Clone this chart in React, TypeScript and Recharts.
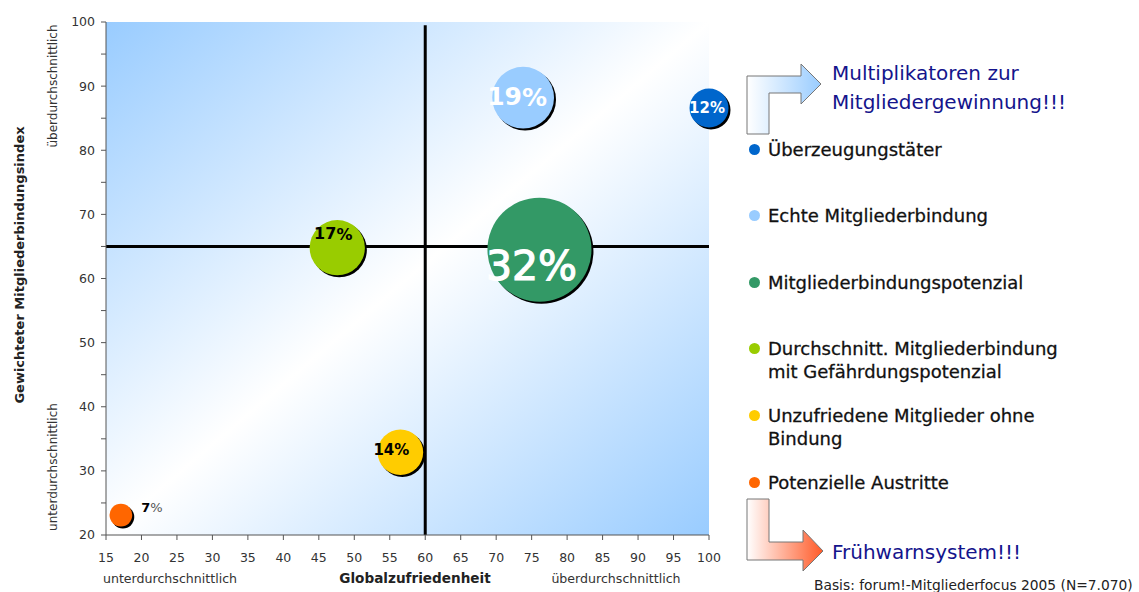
import React from "react";
import {
  ScatterChart,
  Scatter,
  XAxis,
  YAxis,
  ZAxis,
  ReferenceArea,
  ReferenceLine,
} from "recharts";

// Segments of the member portfolio
const SEGMENTS = [
  "Überzeugungstäter",
  "Echte Mitgliederbindung",
  "Mitgliederbindungspotenzial",
  "Durchschnitt. Mitgliederbindung mit Gefährdungspotenzial",
  "Unzufriedene Mitglieder ohne Bindung",
  "Potenzielle Austritte",
];
// legend text, split into its printed lines
const LEGEND_LINES = [
  ["Überzeugungstäter"],
  ["Echte Mitgliederbindung"],
  ["Mitgliederbindungspotenzial"],
  ["Durchschnitt. Mitgliederbindung", "mit Gefährdungspotenzial"],
  ["Unzufriedene Mitglieder ohne", "Bindung"],
  ["Potenzielle Austritte"],
];
// Globalzufriedenheit (x)
const SATISFACTION = [100, 73.8, 76.1, 47.6, 56.5, 17.1];
// Gewichteter Mitgliederbindungsindex (y)
const RETENTION = [86.6, 88.2, 64.5, 64.8, 32.9, 23.1];
// share of members in %
const SHARE = [12, 19, 32, 17, 14, 7];

const X_TICKS = [15, 20, 25, 30, 35, 40, 45, 50, 55, 60, 65, 70, 75, 80, 85, 90, 95, 100];
const Y_TICKS = [20, 25, 30, 35, 40, 45, 50, 55, 60, 65, 70, 75, 80, 85, 90, 95, 100];
const X_MEAN = 60;
const Y_MEAN = 65;

const COLORS = ["#0066cc", "#99ccff", "#339966", "#99cc00", "#ffcc00", "#ff6600"];

// where each percentage label sits relative to its bubble
const LABEL_STYLES = [
  { dx: -2, dy: 0, size: 15, fill: "#fff", weight: 700 },
  { dx: -6, dy: -1, size: 25, fill: "#fff", weight: 700 },
  { dx: -8, dy: 16, size: 41, fill: "#fff", weight: 400 },
  { dx: -4, dy: -14, size: 16, fill: "#000", weight: 700 },
  { dx: -9, dy: -2, size: 15, fill: "#000", weight: 700 },
  { dx: 31, dy: -8, size: 13, fill: "#000", weight: 700 },
];

const MAX_RADIUS = 52;
const FONT = "'DejaVu Sans', Verdana, sans-serif";
const NAVY = "#14148c";

interface Point {
  i: number;
  name: string;
  x: number;
  y: number;
  share: number;
}

const data: Point[] = SEGMENTS.map((name, i) => ({
  i,
  name,
  x: SATISFACTION[i],
  y: RETENTION[i],
  share: SHARE[i],
}));

function Bubble(props: any) {
  const { cx, cy, payload } = props;
  const r = props.width ? props.width / 2 : Math.sqrt((props.size || 0) / Math.PI);
  return (
    <g>
      <circle cx={cx + 2} cy={cy + 2} r={r} fill="#000" />
      <circle cx={cx} cy={cy} r={r} fill={COLORS[payload.i]} />
    </g>
  );
}

function BubbleLabel(props: any) {
  const { cx, cy, payload } = props;
  const st = LABEL_STYLES[payload.i];
  return (
    <text
      x={cx + st.dx}
      y={cy + st.dy}
      textAnchor="middle"
      dominantBaseline="central"
      fontFamily={FONT}
      fontSize={st.size}
      fontWeight={st.weight}
      fill={st.fill}
      stroke={st.weight === 400 ? st.fill : "none"}
      strokeWidth={st.weight === 400 ? 1.2 : 0}
    >
      {payload.share}
      <tspan fontWeight={payload.i === 5 ? 400 : st.weight} fill={payload.i === 5 ? "#555" : st.fill}>
        %
      </tspan>
    </text>
  );
}

function Overlay() {
  return (
    <svg
      width={1139}
      height={592}
      style={{ position: "absolute", left: 0, top: 0, pointerEvents: "none" }}
    >
      <defs>
        <linearGradient id="arrowBlue" x1="0" y1="0" x2="1" y2="0">
          <stop offset="0" stopColor="#ffffff" />
          <stop offset="1" stopColor="#99ccff" />
        </linearGradient>
        <linearGradient id="arrowRed" x1="0" y1="0" x2="1" y2="0">
          <stop offset="0" stopColor="#ffffff" />
          <stop offset="1" stopColor="#ff5a28" />
        </linearGradient>
      </defs>
      {/* axis captions */}
      <text
        transform="translate(19,265) rotate(-90)"
        textAnchor="middle"
        dominantBaseline="central"
        fontFamily={FONT}
        fontSize={13}
        fontWeight={700}
        fill="#222"
      >
        Gewichteter Mitgliederbindungsindex
      </text>
      <text
        transform="translate(53,86) rotate(-90)"
        textAnchor="middle"
        dominantBaseline="central"
        fontFamily={FONT}
        fontSize={12}
        fill="#333"
      >
        überdurchschnittlich
      </text>
      <text
        transform="translate(53,467) rotate(-90)"
        textAnchor="middle"
        dominantBaseline="central"
        fontFamily={FONT}
        fontSize={12}
        fill="#333"
      >
        unterdurchschnittlich
      </text>
      <text x={170} y={578} textAnchor="middle" dominantBaseline="central" fontFamily={FONT} fontSize={12.6} fill="#333">
        unterdurchschnittlich
      </text>
      <text
        x={415}
        y={578}
        textAnchor="middle"
        dominantBaseline="central"
        fontFamily={FONT}
        fontSize={13.6}
        fontWeight={700}
        fill="#222"
      >
        Globalzufriedenheit
      </text>
      <text x={616} y={578} textAnchor="middle" dominantBaseline="central" fontFamily={FONT} fontSize={12.6} fill="#333">
        überdurchschnittlich
      </text>

      {/* bent arrows beside the legend */}
      <path
        d="M747,134 L747,76 L801,76 L801,64 L821,84 L801,104 L801,93 L769,93 L769,134 Z"
        fill="url(#arrowBlue)"
        stroke="#777"
        strokeWidth={1}
      />
      <path
        d="M747,499 L769,499 L769,542 L803,542 L803,530 L823,551 L803,571 L803,560 L747,560 Z"
        fill="url(#arrowRed)"
        stroke="#777"
        strokeWidth={1}
      />
      <text x={832} y={73} dominantBaseline="central" fontFamily={FONT} fontSize={20} fill={NAVY}>
        Multiplikatoren zur
      </text>
      <text x={832} y={102} dominantBaseline="central" fontFamily={FONT} fontSize={20} fill={NAVY}>
        Mitgliedergewinnung!!!
      </text>
      <text x={832} y={552} dominantBaseline="central" fontFamily={FONT} fontSize={20} fill={NAVY}>
        Frühwarnsystem!!!
      </text>
      <text x={814} y={585} dominantBaseline="central" fontFamily={FONT} fontSize={13.8} fill="#222">
        Basis: forum!-Mitgliederfocus 2005 (N=7.070)
      </text>
    </svg>
  );
}

function SegmentLegend() {
  return (
    <div
      style={{
        position: "absolute",
        left: 0,
        top: 0,
        fontFamily: FONT,
        fontSize: 18,
        color: "#111",
        WebkitTextStroke: "0.3px #111",
      }}
    >
      {LEGEND_LINES.map((lines, i) => (
        <div
          key={SEGMENTS[i]}
          style={{ position: "absolute", left: 749, top: 137.5 + i * 66.6, whiteSpace: "nowrap", lineHeight: "23px" }}
        >
          <span
            style={{
              position: "absolute",
              left: 0,
              top: 6,
              width: 11,
              height: 11,
              borderRadius: "50%",
              background: COLORS[i],
            }}
          />
          <div style={{ paddingLeft: 19 }}>
            {lines.map((l) => (
              <div key={l}>{l}</div>
            ))}
          </div>
        </div>
      ))}
    </div>
  );
}

export default function App() {
  return (
    <div style={{ position: "absolute", left: 0, top: 0, width: 1139, height: 592, background: "#fff" }}>
      <ScatterChart width={1139} height={592} margin={{ top: 22, right: 430, bottom: 27, left: 46 }}>
        <defs>
          <linearGradient id="plotBg" x1="0" y1="0" x2="1" y2="1">
            <stop offset="0" stopColor="#99ccff" />
            <stop offset="0.5" stopColor="#ffffff" />
            <stop offset="1" stopColor="#99ccff" />
          </linearGradient>
        </defs>
        <XAxis
          type="number"
          dataKey="x"
          domain={[15, 100]}
          ticks={X_TICKS}
          interval={0}
          height={30}
          tickSize={5}
          tickMargin={13}
          stroke="#555"
          tick={{ fontSize: 12.5, fill: "#333", fontFamily: FONT }}
        />
        <YAxis
          type="number"
          dataKey="y"
          domain={[20, 100]}
          ticks={Y_TICKS}
          interval={0}
          width={60}
          tickSize={5}
          tickMargin={6}
          stroke="#555"
          tick={{ fontSize: 12.5, fill: "#333", fontFamily: FONT }}
          tickFormatter={(v: number) => (v % 10 === 0 ? String(v) : "")}
        />
        <ZAxis
          type="number"
          dataKey={(d: Point) => d.share * d.share}
          domain={[0, 32 * 32]}
          range={[0, Math.PI * MAX_RADIUS * MAX_RADIUS]}
        />
        <ReferenceArea x1={15} x2={100} y1={20} y2={100} fill="url(#plotBg)" fillOpacity={1} stroke="none" />
        <Scatter data={data} shape={Bubble} isAnimationActive={false} />
        <ReferenceLine
          segment={[
            { x: X_MEAN, y: 99.5 },
            { x: X_MEAN, y: 20 },
          ]}
          stroke="#000"
          strokeWidth={3}
        />
        <ReferenceLine y={Y_MEAN} stroke="#000" strokeWidth={3} />
        <Scatter data={data} shape={BubbleLabel} isAnimationActive={false} />
      </ScatterChart>
      <SegmentLegend />
      <Overlay />
    </div>
  );
}
